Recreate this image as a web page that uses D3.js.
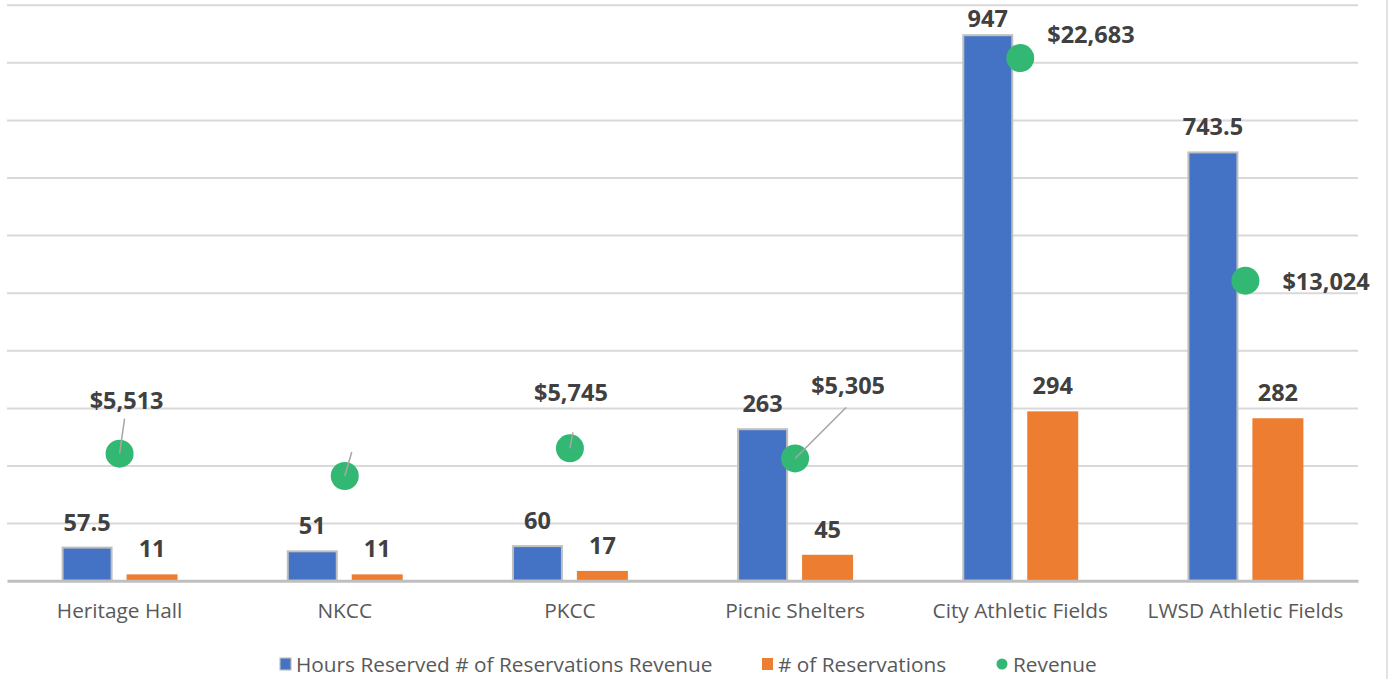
<!DOCTYPE html>
<html>
<head>
<meta charset="utf-8">
<script src="https://cdn.jsdelivr.net/npm/d3@7"></script>
<style>
html,body{margin:0;padding:0;background:#fff;}
svg{display:block;font-family:"Open Sans",sans-serif;}
</style>
</head>
<body>
<svg id="chart" width="1388" height="679"></svg>
<script>
const categories = ["Heritage Hall","NKCC","PKCC","Picnic Shelters","City Athletic Fields","LWSD Athletic Fields"];
const hoursReserved = [57.5, 51, 60, 263, 947, 743.5];
const reservations = [11, 11, 17, 45, 294, 282];
const revenue = [5513, 4545, 5745, 5305, 22683, 13024];
const revenueLabelShown = [true, false, true, true, true, true];
const seriesNames = ["Hours Reserved # of Reservations Revenue", "# of Reservations", "Revenue"];
const yTicks = d3.range(0, 1001, 100);

const svg = d3.select("#chart");
const plotLeft = 7, plotRight = 1358, plotTop = 4.7, plotBottom = 580.7;

const x0 = d3.scaleBand().domain(categories).range([plotLeft, plotRight]).paddingInner(0.485).paddingOuter(0.2425);
const x1 = d3.scaleBand().domain(["hours","res"]).range([0, x0.bandwidth()]).paddingInner(0.215);
const y = d3.scaleLinear().domain([0, 1000]).range([plotBottom, plotTop]);
const y2 = d3.scaleLinear().domain([0, 25000]).range([plotBottom, plotTop]);

// right border
svg.append("line").attr("x1",1387).attr("x2",1387).attr("y1",0).attr("y2",679)
  .attr("stroke","#d9d9d9").attr("stroke-width",1.5);

// gridlines
const yAxis = d3.axisLeft(y).tickValues(yTicks.filter(d=>d>0)).tickSize(-(plotRight-plotLeft)).tickFormat("");
const gGrid = svg.append("g").attr("transform",`translate(${plotLeft},0)`).call(yAxis);
gGrid.select(".domain").remove();
gGrid.selectAll(".tick line").attr("stroke","#d9d9d9").attr("stroke-width",2);

// bars
const data = categories.map((c,i)=>({c, h:hoursReserved[i], r:reservations[i], rev:revenue[i], show:revenueLabelShown[i]}));
const g = svg.append("g");
g.selectAll("rect.h").data(data).join("rect").attr("class","h")
  .attr("x", d=>x0(d.c)+x1("hours")+1).attr("width", x1.bandwidth()-2)
  .attr("y", d=>y(d.h)).attr("height", d=>plotBottom-y(d.h))
  .attr("fill","#4472C4").attr("stroke","#bfbfbf").attr("stroke-width",2);
g.selectAll("rect.r").data(data).join("rect").attr("class","r")
  .attr("x", d=>x0(d.c)+x1("res")).attr("width", x1.bandwidth())
  .attr("y", d=>y(d.r)).attr("height", d=>plotBottom-y(d.r))
  .attr("fill","#ED7D31");

// baseline axis
const xAxis = d3.axisBottom(x0).tickSize(0).tickPadding(23);
const gx = svg.append("g").attr("transform",`translate(0,${plotBottom})`).call(xAxis);
gx.select(".domain").attr("stroke","#bfbfbf").attr("stroke-width",3);
gx.selectAll(".tick text").attr("font-family","'Open Sans',sans-serif").attr("font-size",20.8).attr("fill","#595959");

// bar labels
const lblStyle = s => s.attr("font-family","'Open Sans',sans-serif").attr("font-weight","bold").attr("font-size",23.5).attr("fill","#404040").attr("text-anchor","middle");
g.selectAll("text.hl").data(data).join("text").attr("class","hl")
  .attr("x", d=>x0(d.c)+x1("hours")+x1.bandwidth()/2)
  .attr("y", d=>Math.max(y(d.h)-17, 27))
  .text(d=>d.h).call(lblStyle);
g.selectAll("text.rl").data(data).join("text").attr("class","rl")
  .attr("x", d=>x0(d.c)+x1("res")+x1.bandwidth()/2)
  .attr("y", d=>y(d.r)-17)
  .text(d=>d.r).call(lblStyle);

// revenue dots
const cx = d=>x0(d.c)+x0.bandwidth()/2;
const offs = [
  {dx:7, dy:-45, anchor:"middle", lx:5, ly:-35},
  {dx:0, dy:0, anchor:"middle", lx:7, ly:-24},
  {dx:1, dy:-47, anchor:"middle", lx:3, ly:-16},
  {dx:53, dy:-64, anchor:"middle", lx:51, ly:-51},
  {dx:27, dy:-15, anchor:"start", lx:0, ly:0},
  {dx:37, dy:9, anchor:"start", lx:0, ly:0}
];
svg.selectAll("circle.rev").data(data).join("circle").attr("class","rev")
  .attr("cx", cx).attr("cy", d=>y2(d.rev)).attr("r",14).attr("fill","#33B874");
data.forEach((d,i)=>{
  const o = offs[i];
  if (o.lx || o.ly) {
    svg.append("line").attr("x1",cx(d)).attr("y1",y2(d.rev)).attr("x2",cx(d)+o.lx).attr("y2",y2(d.rev)+o.ly)
      .attr("stroke","#a6a6a6").attr("stroke-width",1.5);
  }
  if (d.show) {
    svg.append("text").attr("x",cx(d)+o.dx).attr("y",y2(d.rev)+o.dy)
      .text(d3.format("$,")(d.rev)).call(lblStyle).attr("text-anchor",o.anchor);
  }
});

// legend
const lg = svg.append("g").attr("font-family","'Open Sans',sans-serif").attr("font-size",20.8).attr("fill","#595959");
const legendItems = [
  {name:seriesNames[0], x:280, type:"rect", color:"#4472C4", stroke:"#bfbfbf"},
  {name:seriesNames[1], x:762, type:"rect", color:"#ED7D31", stroke:null},
  {name:seriesNames[2], x:997, type:"circle", color:"#33B874"}
];
legendItems.forEach(it=>{
  if (it.type==="rect") {
    lg.append("rect").attr("x",it.x).attr("y",658).attr("width",11).attr("height",12)
      .attr("fill",it.color).attr("stroke",it.stroke||"none").attr("stroke-width",1.2);
  } else {
    lg.append("circle").attr("cx",it.x+5).attr("cy",664).attr("r",5.5).attr("fill",it.color);
  }
  lg.append("text").attr("x",it.x+16).attr("y",671.5).text(it.name);
});
</script>
</body>
</html>
